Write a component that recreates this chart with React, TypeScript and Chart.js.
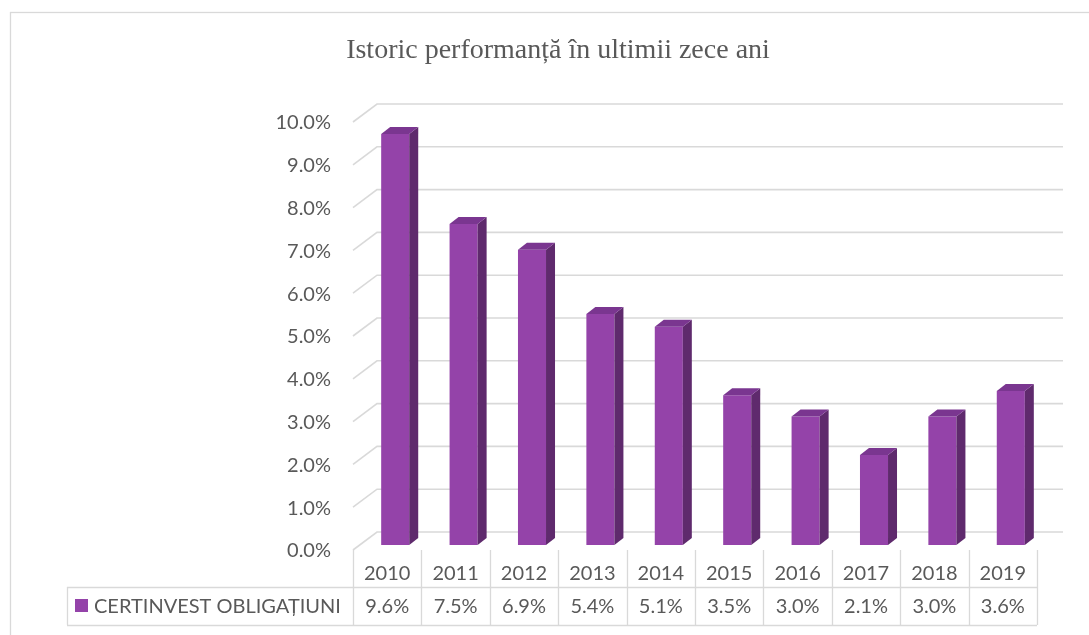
import React, { useEffect, useRef } from 'react';
import { Chart, registerables } from 'chart.js';

Chart.register(...registerables);

const TITLE = 'Istoric performanță în ultimii zece ani';
const SERIES_NAME = 'CERTINVEST OBLIGAȚIUNI';
const YEARS = ['2010', '2011', '2012', '2013', '2014', '2015', '2016', '2017', '2018', '2019'];
const VALUES = [9.6, 7.5, 6.9, 5.4, 5.1, 3.5, 3.0, 2.1, 3.0, 3.6];
const Y_MIN = 0;
const Y_MAX = 10;
const Y_STEP = 1;

const FRONT = '#9443A9';
const SIDE = '#5F2A6D';
const TOPC = '#7A3690';
const GRID = '#D9D9D9';
const TEXT = '#595959';
const FONT = 'Lato, "Open Sans", sans-serif';

const DEPTH_X = 9;
const DEPTH_Y = 7;

const depthPlugin = {
  id: 'depth3d',
  beforeDraw(chart: any) {
    const ctx = chart.ctx;
    ctx.save();
    ctx.fillStyle = '#ffffff';
    ctx.fillRect(0, 0, chart.width, chart.height);
    ctx.strokeStyle = GRID;
    ctx.lineWidth = 1.3;
    ctx.strokeRect(10.5, 12.5, chart.width + 50, chart.height + 50);
    ctx.fillStyle = TEXT;
    ctx.font = '28px "Liberation Serif", "Times New Roman", serif';
    ctx.textAlign = 'center';
    ctx.textBaseline = 'alphabetic';
    ctx.fillText(TITLE, 558, 58);
    ctx.restore();
  },
  beforeDatasetsDraw(chart: any) {
    const ctx = chart.ctx;
    const ca = chart.chartArea;
    const y = chart.scales.y;
    ctx.save();
    ctx.strokeStyle = GRID;
    ctx.lineWidth = 1.6;
    for (let v = Y_MIN; v <= Y_MAX; v += Y_STEP) {
      const yb = y.getPixelForValue(v);
      ctx.beginPath();
      ctx.moveTo(ca.left - 8, yb + 5);
      ctx.lineTo(ca.left + 16, yb - 13);
      ctx.lineTo(ca.right + 18, yb - 13);
      ctx.stroke();
    }
    ctx.restore();
  },
  afterDatasetsDraw(chart: any) {
    const ctx = chart.ctx;
    const ca = chart.chartArea;
    const y = chart.scales.y;
    const meta = chart.getDatasetMeta(0);
    ctx.save();
    meta.data.forEach((bar: any) => {
      const p = bar.getProps(['x', 'y', 'base', 'width'], true);
      const l = p.x - p.width / 2;
      const r = p.x + p.width / 2;
      ctx.fillStyle = SIDE;
      ctx.beginPath();
      ctx.moveTo(r, p.y);
      ctx.lineTo(r + DEPTH_X, p.y - DEPTH_Y);
      ctx.lineTo(r + DEPTH_X, p.base - DEPTH_Y);
      ctx.lineTo(r, p.base);
      ctx.closePath();
      ctx.fill();
      ctx.fillStyle = TOPC;
      ctx.beginPath();
      ctx.moveTo(l, p.y);
      ctx.lineTo(l + DEPTH_X, p.y - DEPTH_Y);
      ctx.lineTo(r + DEPTH_X, p.y - DEPTH_Y);
      ctx.lineTo(r, p.y);
      ctx.closePath();
      ctx.fill();
    });

    // data table
    const n = YEARS.length;
    const w = (ca.right - ca.left) / n;
    const x0 = ca.left - 8;
    const floorY = y.getPixelForValue(Y_MIN) + 5;
    const rowMid = 587;
    const rowBot = 625;
    const tableLeft = 67;
    ctx.strokeStyle = GRID;
    ctx.lineWidth = 1.3;
    ctx.beginPath();
    for (let i = 0; i <= n; i++) {
      const xx = Math.round(x0 + i * w) + 0.5;
      ctx.moveTo(xx, floorY);
      ctx.lineTo(xx, rowBot);
    }
    ctx.moveTo(tableLeft, rowMid + 0.5);
    ctx.lineTo(x0 + n * w, rowMid + 0.5);
    ctx.moveTo(tableLeft, rowBot + 0.5);
    ctx.lineTo(x0 + n * w, rowBot + 0.5);
    ctx.moveTo(tableLeft + 0.5, rowMid);
    ctx.lineTo(tableLeft + 0.5, rowBot);
    ctx.stroke();

    ctx.fillStyle = TEXT;
    ctx.font = '20px ' + FONT;
    ctx.textAlign = 'center';
    ctx.textBaseline = 'middle';
    for (let i = 0; i < n; i++) {
      const cx = x0 + (i + 0.5) * w;
      ctx.fillText(YEARS[i], cx, 574);
      ctx.fillText(VALUES[i].toFixed(1) + '%', cx, 607);
    }
    ctx.fillStyle = FRONT;
    ctx.fillRect(75, 599, 13, 13);
    ctx.fillStyle = TEXT;
    ctx.textAlign = 'left';
    ctx.fillText(SERIES_NAME, 94, 607);
    ctx.restore();
  },
};

export default function App() {
  const ref = useRef<HTMLCanvasElement | null>(null);
  useEffect(() => {
    if (!ref.current) return;
    const chart = new Chart(ref.current, {
      type: 'bar',
      data: {
        labels: YEARS,
        datasets: [
          {
            label: SERIES_NAME,
            data: VALUES,
            backgroundColor: FRONT,
            borderWidth: 0,
            categoryPercentage: 1,
            barPercentage: 0.41,
          },
        ],
      },
      options: {
        responsive: false,
        animation: false,
        layout: { padding: { top: 117, bottom: 90, left: 0, right: 44 } },
        plugins: {
          legend: { display: false },
          title: { display: false },
          tooltip: { enabled: false },
        },
        scales: {
          x: { display: false, offset: true },
          y: {
            min: Y_MIN,
            max: Y_MAX,
            grid: { display: false, drawTicks: false, tickLength: 0 },
            border: { display: false },
            ticks: {
              stepSize: Y_STEP,
              padding: 30,
              labelOffset: 6,
              color: TEXT,
              font: { family: FONT, size: 20 },
              callback: (v: any) => Number(v).toFixed(1) + '%',
            },
            afterFit: (scale: any) => {
              scale.width = 361;
            },
          },
        },
      },
      plugins: [depthPlugin],
    });
    return () => chart.destroy();
  }, []);
  return (
    <div style={{ position: 'absolute', left: 0, top: 0, width: 1089, height: 635 }}>
      <canvas ref={ref} width={1089} height={635} style={{ display: 'block' }} />
    </div>
  );
}
